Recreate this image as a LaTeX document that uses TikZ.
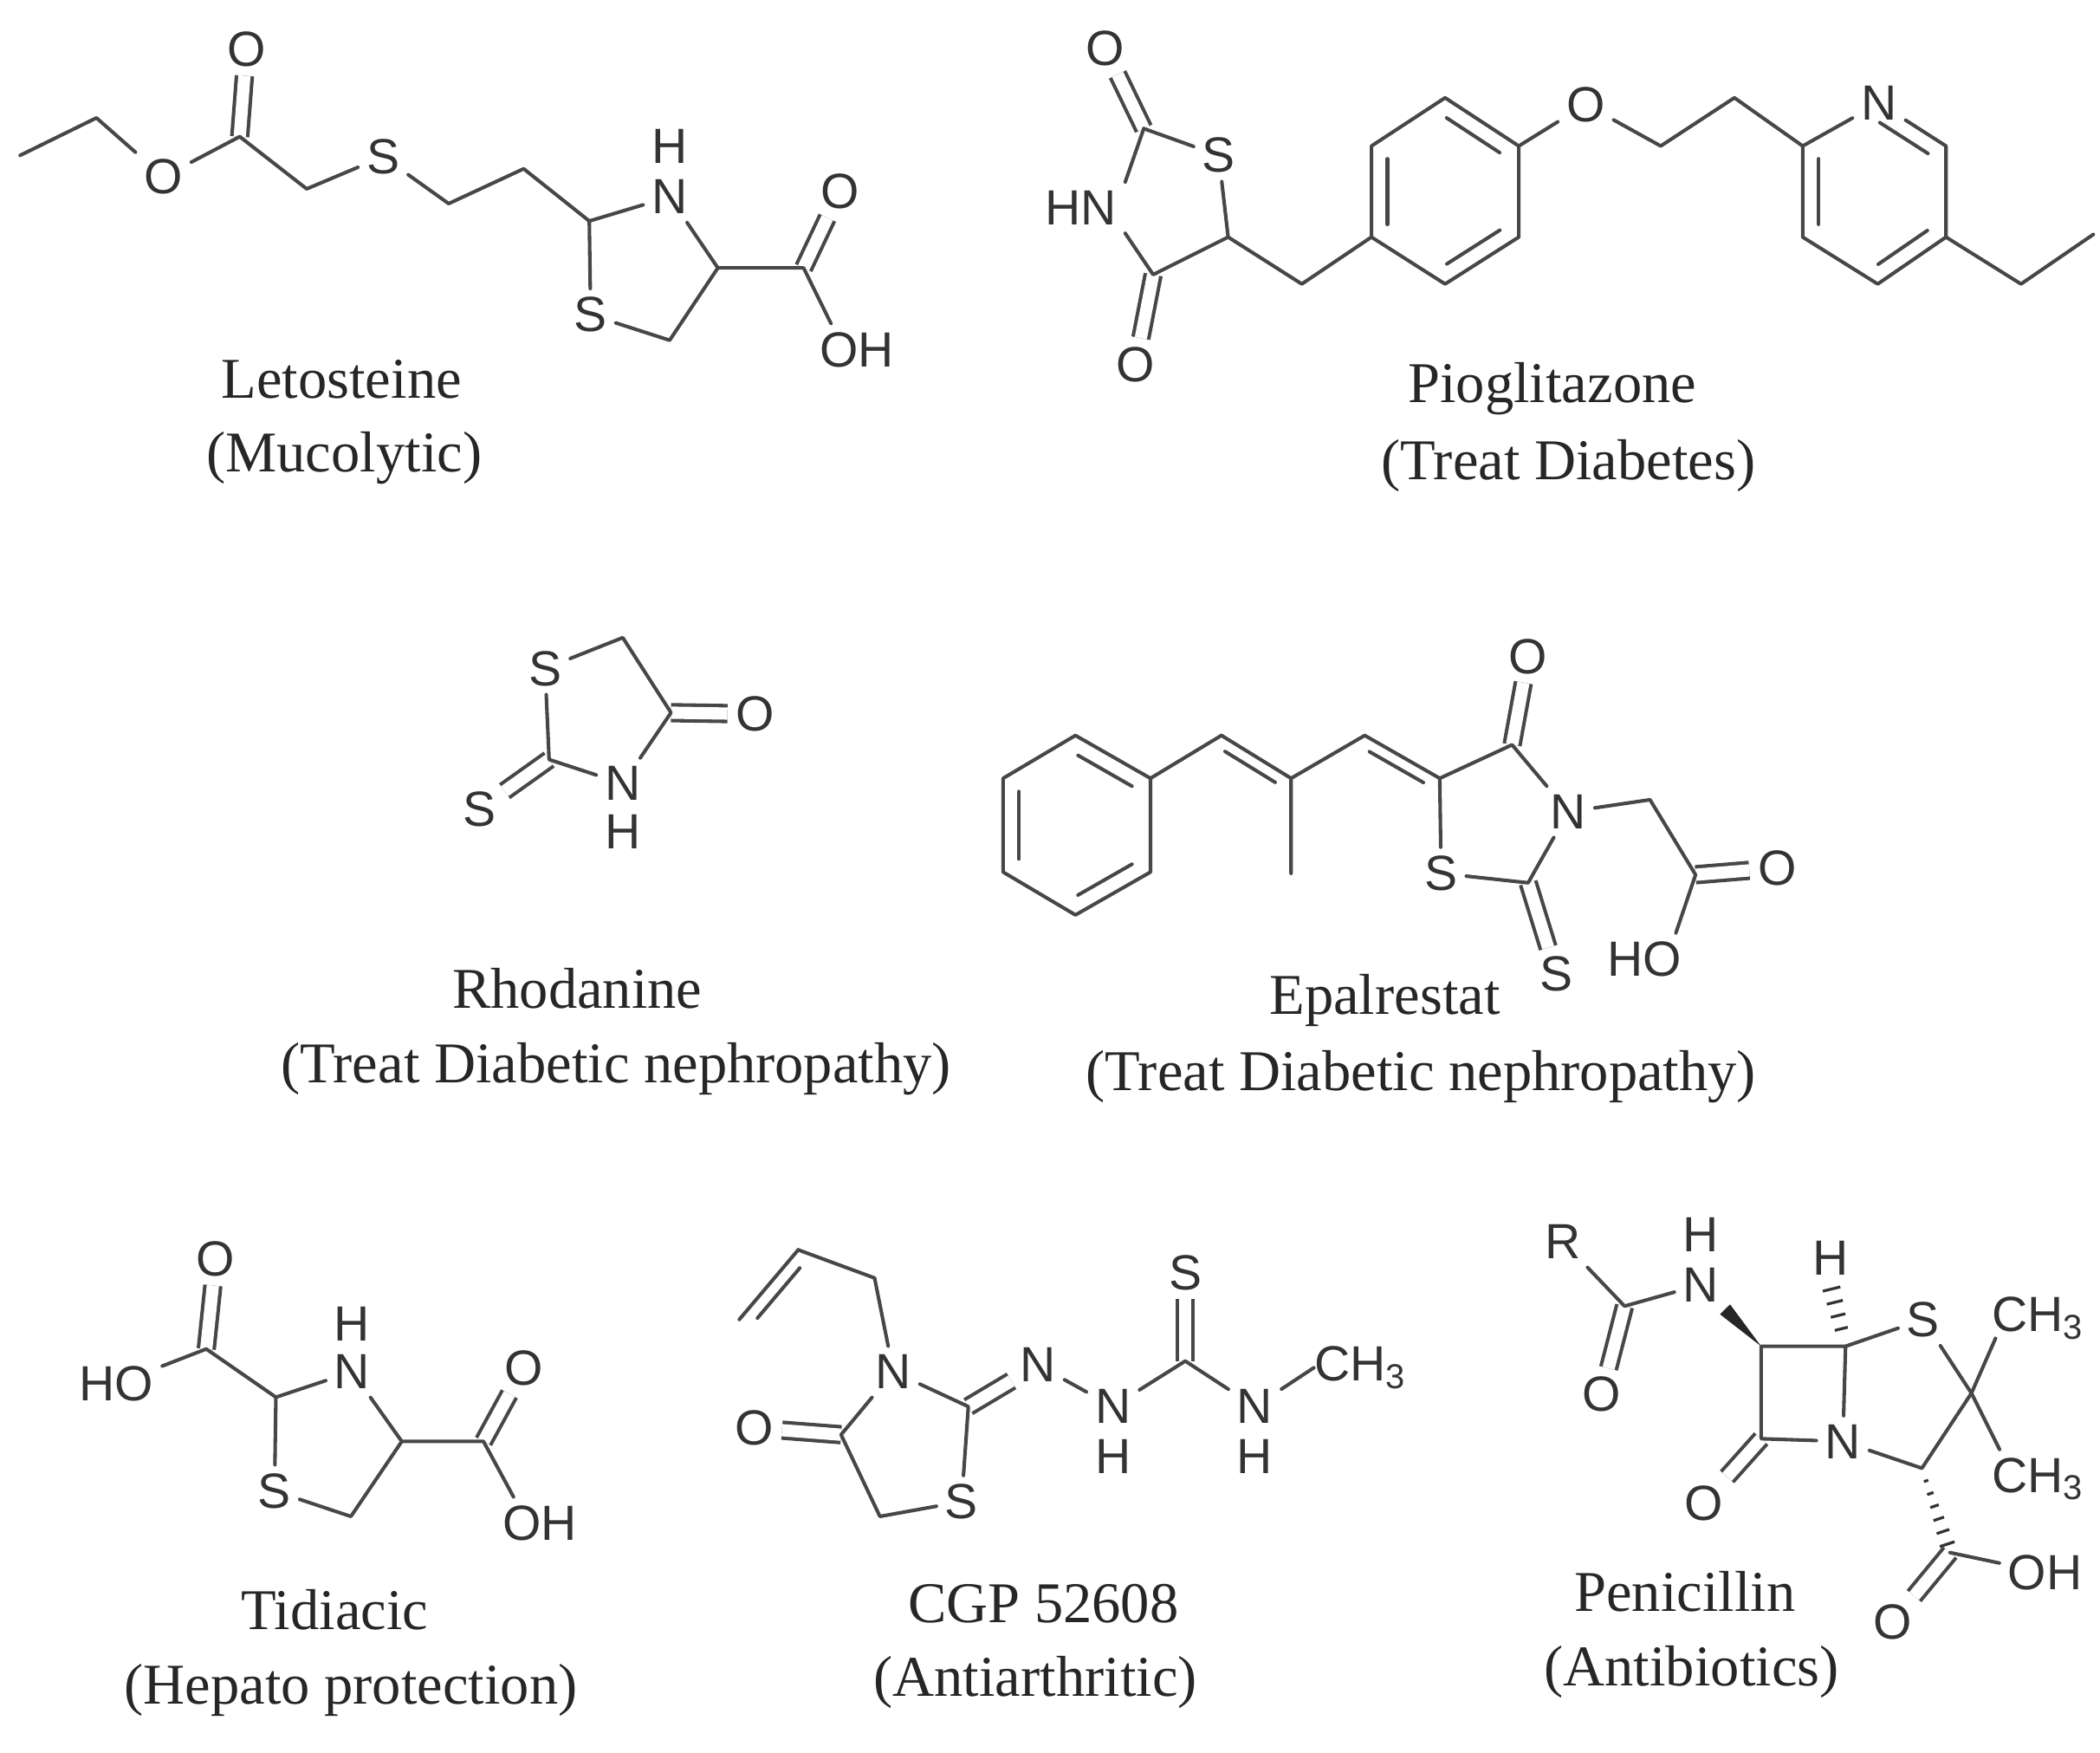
\documentclass[tikz,border=0pt]{standalone}
\usepackage{fontspec}
\setmainfont{Liberation Serif}
\newfontfamily\atomfont{Liberation Sans}
\usetikzlibrary{calc}
\tikzset{
	atom/.style={font=\atomfont\fontsize{21}{21}\selectfont,inner sep=3.5pt,text=black!80},
	caption/.style={font=\fontsize{24.5}{24.5}\selectfont,inner sep=0pt,text=black!85},
	bond/.style={line width=1.5pt,draw=black!72,line cap=round,line join=round},
	dbl/.style={line width=1.5pt,draw=black!72,double=white,double distance=5.2pt},
	wedge/.style={fill=black!85,draw=none},
	hash/.style={line width=1.2pt,draw=black!80}
}
% inner line of a ring double bond
\newcommand{\ringbond}[3][6.8pt]{\draw[bond] ($(#2)!.14!(#3)!#1!-90:(#3)$) -- ($(#3)!.14!(#2)!#1!90:(#2)$);}
\newcommand{\hashbond}[5]{\foreach \t in {#5} {\draw[hash] ($(#1)!\t!(#2)!{(#3+\t*(#4-#3))*1pt}!90:(#2)$) -- ($(#1)!\t!(#2)!{-(#3+\t*(#4-#3))*1pt}!90:(#2)$);}}
\begin{document}
\begin{tikzpicture}[x=0.02cm,y=-0.02cm]
	\useasboundingbox (0,0) rectangle (1568,1308);

	% Letosteine
	\foreach \name/\x/\y in {a1/15/116,a2/72/88,a4/179/102,a6/229/141,a8/335/152,a9/391/126,a10/440/165,a12/536/200,a13/500/254,a15/600/200}
		\coordinate (\name) at (\x,\y);
	\foreach \name/\x/\y/\txt in {a3/122/132/O,a5/184/37/O,a7/286/117/S,a11/500/147/N,a11h/500/109/H,a14/441/235/S,a16/627/143/O,a17/640/261/OH}
		\node[atom] (\name) at (\x,\y) {\txt};
	\draw[dbl] (a4) -- (a5);
	\draw[dbl] (a15) -- (a16);
	\draw[bond] (a1) -- (a2) -- (a3) -- (a4) -- (a6) -- (a7) -- (a8) -- (a9) -- (a10) -- (a11) -- (a12) -- (a13) -- (a14) -- (a10);
	\draw[bond] (a12) -- (a15) -- (a17.135);
	\node[caption] (a18) at (255,283) {Letosteine};
	\node[caption] (a19) at (257,342) {(Mucolytic)};

	% Pioglitazone
	\foreach \name/\x/\y in {b2/854/96,b5/861/205,b7/917/177,b8/972/212,b9/1024/177,b10/1024/109,b11/1079/73,b12/1134/109,b13/1134/177,b14/1079/212,b16/1240/109,b17/1295/73,b18/1346/109,b20/1453/109,b21/1453/177,b22/1402/212,b23/1346/177,b24/1509/212,b25/1563/175}
		\coordinate (\name) at (\x,\y);
	\foreach \name/\x/\y/\txt in {b1/825/36/O,b3/910/116/S,b4/807/155/HN,b6/848/272/O,b15/1184/78/O,b19/1403/77/N}
		\node[atom] (\name) at (\x,\y) {\txt};
	\draw[dbl] (b2) -- (b1);
	\draw[dbl] (b5) -- (b6);
	\draw[bond] (b2) -- (b3) -- (b7) -- (b5) -- (b4.-30);
	\draw[bond] (b4.30) -- (b2);
	\draw[bond] (b7) -- (b8) -- (b9) -- (b10) -- (b11) -- (b12) -- (b13) -- (b14) -- (b9);
	\ringbond{b9}{b10}
	\ringbond{b11}{b12}
	\ringbond{b13}{b14}
	\draw[bond] (b12) -- (b15) -- (b16) -- (b17) -- (b18) -- (b19) -- (b20) -- (b21) -- (b22) -- (b23) -- (b18);
	\draw[bond] (b21) -- (b24) -- (b25);
	\ringbond{b23}{b18}
	\ringbond{b19}{b20}
	\ringbond{b21}{b22}
	\node[caption] (b26) at (1159,290) {Pioglitazone};
	\node[caption] (b27) at (1171,348) {(Treat Diabetes)};

	% Rhodanine
	\foreach \name/\x/\y in {c2/465/476,c3/501/532,c6/410/567}
		\coordinate (\name) at (\x,\y);
	\foreach \name/\x/\y/\txt in {c1/407/499/S,c4/564/533/O,c5/465/585/N,c5h/465/621/H,c7/358/604/S}
		\node[atom] (\name) at (\x,\y) {\txt};
	\draw[dbl] (c3) -- (c4);
	\draw[dbl] (c6) -- (c7);
	\draw[bond] (c1) -- (c2) -- (c3) -- (c5) -- (c6) -- (c1);
	\node[caption] (c8) at (431,738) {Rhodanine};
	\node[caption] (c9) at (460,798) {(Treat Diabetic nephropathy)};

	% Epalrestat
	\foreach \name/\x/\y in {d1/803/549,d2/859/581,d3/859/651,d4/803/683,d5/749/651,d6/749/581,d7/912/549,d8/964/581,d9/964/652,d10/1019/549,d11/1075/581,d12/1129/556,d15/1232/597,d16/1266/653,d20/1141/659}
		\coordinate (\name) at (\x,\y);
	\foreach \name/\x/\y/\txt in {d13/1141/490/O,d14/1171/606/N,d17/1327/648/O,d18/1228/716/HO,d19/1076/652/S,d21/1162/727/S}
		\node[atom] (\name) at (\x,\y) {\txt};
	\draw[dbl] (d12) -- (d13);
	\draw[dbl] (d20) -- (d21);
	\draw[dbl] (d16) -- (d17);
	\draw[bond] (d1) -- (d2) -- (d3) -- (d4) -- (d5) -- (d6) -- (d1);
	\ringbond{d1}{d2}
	\ringbond{d3}{d4}
	\ringbond{d5}{d6}
	\draw[bond] (d2) -- (d7);
	\draw[bond] (d7) -- (d8) -- (d9);
	\ringbond[5pt]{d7}{d8}
	\draw[bond] (d8) -- (d10) -- (d11) -- (d12) -- (d14) -- (d20) -- (d19) -- (d11);
	\ringbond[5pt]{d10}{d11}
	\draw[bond] (d14) -- (d15) -- (d16) -- (d18.40);
	\node[caption] (d22) at (1034,747) {Epalrestat};
	\node[caption] (d23) at (1061,804) {(Treat Diabetic nephropathy)};

	% Tidiacic
	\foreach \name/\x/\y in {e2/154/1007,e4/206/1043,e6/300/1076,e7/262/1132,e9/361/1076}
		\coordinate (\name) at (\x,\y);
	\foreach \name/\x/\y/\txt in {e1/161/940/O,e3/87/1033/HO,e5/263/1024/N,e5h/263/988/H,e8/205/1113/S,e10/391/1021/O,e11/403/1137/OH}
		\node[atom] (\name) at (\x,\y) {\txt};
	\draw[dbl] (e2) -- (e1);
	\draw[dbl] (e9) -- (e10);
	\draw[bond] (e3) -- (e2) -- (e4) -- (e5) -- (e6) -- (e7) -- (e8) -- (e4);
	\draw[bond] (e6) -- (e9) -- (e11.135);
	\node[caption] (e12) at (250,1202) {Tidiacic};
	\node[caption] (e13) at (262,1262) {(Hepato protection)};

	% CGP 52608
	\foreach \name/\x/\y in {f1/552/985,f2/596/933,f3/653/954,f5/723/1050,f9/885/1016,f14/628/1071,f16/657/1132}
		\coordinate (\name) at (\x,\y);
	\foreach \name/\x/\y/\txt in {f4/667/1024/N,f6/775/1019/N,f7/831/1050/N,f7h/831/1087/H,f10/885/950/S,f11/937/1050/N,f11h/937/1087/H,f15/563/1066/O,f17/718/1121/S}
		\node[atom] (\name) at (\x,\y) {\txt};
	\node[atom,anchor=west,inner sep=0pt] (f12) at (981,1021) {CH\textsubscript{3}};
	\draw[dbl] (f5) -- (f6);
	\draw[dbl] (f9) -- (f10);
	\draw[dbl] (f14) -- (f15);
	\draw[bond] (f2) -- (f3) -- (f4) -- (f5) -- (f17) -- (f16) -- (f14) -- (f4);
	\draw[bond] (f1) -- (f2);
	\ringbond[5.5pt]{f1}{f2}
	\draw[bond] (f6) -- (f7) -- (f9) -- (f11) -- (f12.west);
	\node[caption] (f18) at (779,1197) {CGP 52608};
	\node[caption] (f19) at (773,1256) {(Antiarthritic)};

	% Penicillin
	\foreach \name/\x/\y in {g2/1213/975,g6/1315/1005,g7/1378/1005,g9/1315/1074,g12/1472/1040,g13b/1490/999,g14b/1493/1082,g15/1435/1096,g16/1456/1159,g17/1367/960}
		\coordinate (\name) at (\x,\y);
	\foreach \name/\x/\y/\txt in {g1/1167/927/R,g3/1196/1041/O,g4/1270/959/N,g4h/1270/922/H,g8/1367/939/H,g10/1376/1076/N,g11/1272/1122/O,g5/1436/985/S,g18/1413/1211/O,g19/1527/1174/OH}
		\node[atom] (\name) at (\x,\y) {\txt};
	\node[atom,anchor=west,inner sep=0pt] (g13) at (1487,984) {CH\textsubscript{3}};
	\node[atom,anchor=west,inner sep=0pt] (g14) at (1487,1104) {CH\textsubscript{3}};
	\draw[dbl] (g2) -- (g3);
	\draw[dbl] (g9) -- (g11);
	\draw[dbl] (g16) -- (g18);
	\draw[bond] (g1) -- (g2) -- (g4);
	\draw[wedge] (g6) -- ($(g4)!.4!(g6)!3pt!90:(g6)$) -- ($(g4)!.4!(g6)!3pt!-90:(g6)$) -- cycle;
	\draw[bond] (g6) -- (g7) -- (g10) -- (g9) -- (g6);
	\draw[bond] (g7) -- (g5) -- (g12) -- (g15) -- (g10);
	\draw[bond] (g12) -- (g13b);
	\draw[bond] (g12) -- (g14b);
	\hashbond{g7}{g17}{2.4}{3.9}{.29,.51,.73,.95}
	\hashbond{g15}{g16}{.5}{3.6}{.15,.3,.45,.6,.75,.9}
	\draw[bond] (g16) -- (g19);
	\node[caption] (g20) at (1258,1188) {Penicillin};
	\node[caption] (g21) at (1263,1248) {(Antibiotics)};
\end{tikzpicture}
\end{document}
